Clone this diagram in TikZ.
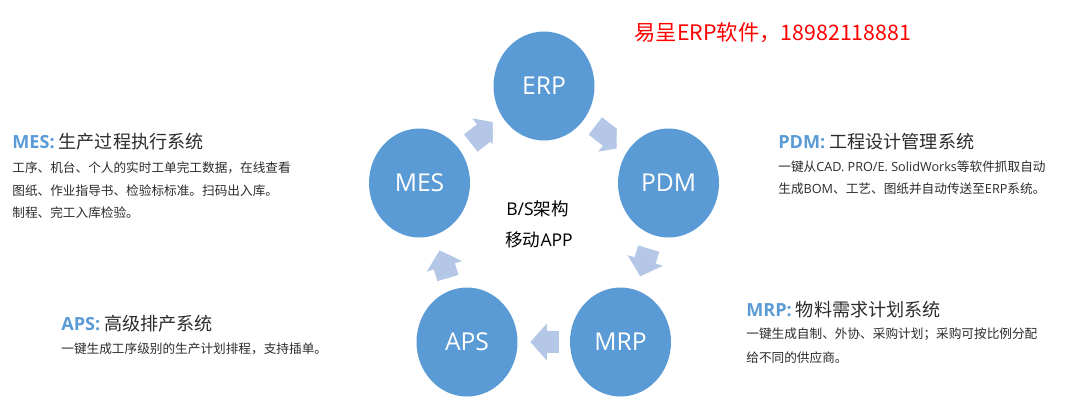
\documentclass[tikz,border=0pt]{standalone}
\usepackage{fontspec}
\usepackage{xcolor}
\setmainfont{Noto Sans CJK SC}
\newfontfamily\latinfont{Open Sans}
\usetikzlibrary{shapes.geometric,arrows.meta}
\definecolor{circleblue}{HTML}{5B9BD5}
\definecolor{arrowblue}{HTML}{B4C7E7}
\definecolor{headblue}{HTML}{5B9BD5}
\definecolor{bodygray}{HTML}{2B2B2B}
\tikzset{
  modnode/.style={ellipse,fill=circleblue,minimum width=2.02cm,minimum height=2.18cm,text=white,font=\latinfont\fontsize{14}{14}\selectfont},
  headtext/.style={anchor=west,text=bodygray,text height=0.85em,text depth=0.2em,font=\fontsize{10.3}{10.3}\selectfont},
  bodytext/.style={anchor=west,text=bodygray,text height=0.85em,text depth=0.2em,font=\fontsize{7.2}{7.2}\selectfont},
  midtext/.style={anchor=west,text=black,text height=0.85em,text depth=0.2em,font=\fontsize{10}{10}\selectfont},
  flowarrow/.style={draw=arrowblue,line width=12.5pt,-{Triangle[length=9.5pt,width=20.5pt]}}
}
\newcommand{\modname}[1]{\textcolor{headblue}{\latinfont\bfseries #1}}
\newcommand{\la}[1]{{\latinfont #1}}

\begin{document}
\begin{tikzpicture}[x=0.2mm,y=0.2mm]
\tikzstyle{every node}+=[inner sep=0pt]
\useasboundingbox (0,0) rectangle (1068,-407);
\node (erp) [modnode] at (544,-86) {ERP};
\node (pdm) [modnode] at (668.5,-183) {PDM};
\node (mrp) [modnode] at (620.5,-342) {MRP};
\node (aps) [modnode] at (467,-342) {APS};
\node (mes) [modnode] at (419.5,-183) {MES};
\begin{scope}
\clip (400,-100) rectangle (492.7,-170);
\draw [flowarrow,shorten <=37pt,shorten >=34pt] (mes.center) -- (erp.center);
\end{scope}
\begin{scope}
\clip (570,-100) rectangle (616.7,-170);
\draw [flowarrow,shorten <=37pt,shorten >=33pt] (erp.center) -- (pdm.center);
\end{scope}
\draw [flowarrow,shorten <=39pt,shorten >=39pt] (pdm.center) -- (mrp.center);
\draw [flowarrow,shorten <=35pt,shorten >=36pt] (mrp.center) -- (aps.center);
\draw [flowarrow,shorten <=38pt,shorten >=40pt] (aps.center) -- (mes.center);
\node (hotline) [anchor=west,text=red,font=\fontsize{12.15}{12.15}\selectfont] at (634,-33) {易呈ERP软件，18982118881};
\node (midone) [midtext] at (506,-210) {\la{B/S}架构};
\node (midtwo) [midtext] at (505,-241) {移动\la{APP}};
\node (mestitle) [headtext] at (12,-142.5) {\modname{MES:} 生产过程执行系统};
\node (mesone) [bodytext] at (12,-167) {工序、机台、个人的实时工单完工数据，在线查看};
\node (mestwo) [bodytext] at (12,-190) {图纸、作业指导书、检验标标准。扫码出入库。};
\node (mesthree) [bodytext] at (12,-212) {制程、完工入库检验。};
\node (pdmtitle) [headtext] at (778,-142.5) {\modname{PDM:} 工程设计管理系统};
\node (pdmone) [bodytext] at (778,-166) {一键从\la{CAD. PRO/E. SolidWorks}等软件抓取自动};
\node (pdmtwo) [bodytext] at (778,-188) {生成\la{BOM}、工艺、图纸并自动传送至\la{ERP}系统。};
\node (mrptitle) [headtext] at (746,-310.5) {\modname{MRP:} 物料需求计划系统};
\node (mrpone) [bodytext] at (746,-333) {一键生成自制、外协、采购计划；采购可按比例分配};
\node (mrptwo) [bodytext] at (746,-357) {给不同的供应商。};
\node (apstitle) [headtext] at (61,-324.5) {\modname{APS:} 高级排产系统};
\node (apsone) [bodytext] at (61,-348) {一键生成工序级别的生产计划排程，支持插单。};
\end{tikzpicture}
\end{document}
